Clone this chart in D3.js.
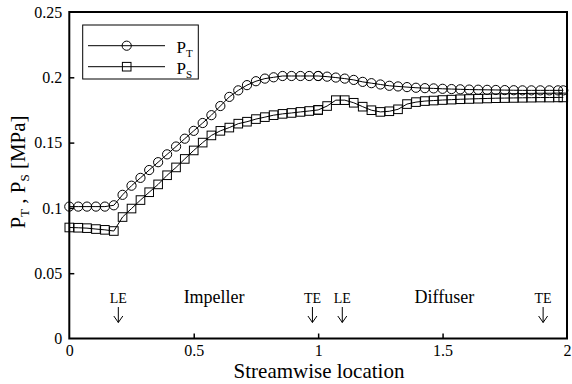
<!DOCTYPE html>
<html>
<head>
<meta charset="utf-8">
<script src="https://cdn.jsdelivr.net/npm/d3@7"></script>
<style>
  body { margin: 0; background: #fff; }
</style>
</head>
<body>
<div id="chart"></div>
<script>
// streamwise positions (impeller 0-1, diffuser 1-2)
const xs = [0, 0.036, 0.071, 0.107, 0.143, 0.179, 0.214, 0.25, 0.286, 0.321, 0.357, 0.393, 0.429, 0.464, 0.5,
    0.536, 0.571, 0.607, 0.643, 0.679, 0.714, 0.75, 0.786, 0.821, 0.857, 0.893, 0.929, 0.964, 1.0,
    1.0, 1.036, 1.071, 1.107, 1.143, 1.179, 1.214, 1.25, 1.286, 1.321, 1.357, 1.393, 1.429, 1.464, 1.5,
    1.536, 1.571, 1.607, 1.643, 1.679, 1.714, 1.75, 1.786, 1.821, 1.857, 1.893, 1.929, 1.964, 1.985]

const ptVals = [0.101, 0.101, 0.101, 0.101, 0.101, 0.102, 0.110, 0.117, 0.123, 0.129, 0.135, 0.141, 0.147, 0.153, 0.159,
    0.165, 0.171, 0.178, 0.185, 0.190, 0.194, 0.197, 0.199, 0.200, 0.201, 0.201, 0.201, 0.201, 0.201,
    0.201, 0.2005, 0.1998, 0.199, 0.198, 0.1965, 0.1955, 0.1945, 0.1935, 0.193, 0.1925, 0.192, 0.1917, 0.1915, 0.1912,
    0.191, 0.1908, 0.1906, 0.1905, 0.1904, 0.1903, 0.1902, 0.1901, 0.190, 0.190, 0.190, 0.190, 0.190, 0.190]

const psVals = [0.085, 0.0848, 0.0845, 0.0838, 0.0832, 0.0823, 0.093, 0.0995, 0.106, 0.112, 0.118, 0.125, 0.131, 0.1375, 0.144,
    0.150, 0.1555, 0.159, 0.1615, 0.1645, 0.166, 0.168, 0.1695, 0.171, 0.172, 0.1727, 0.1735, 0.1742, 0.175,
    0.175, 0.178, 0.1825, 0.1825, 0.1805, 0.1775, 0.1748, 0.1735, 0.174, 0.1755, 0.1795, 0.181, 0.1818, 0.1822, 0.1826,
    0.1829, 0.1832, 0.1834, 0.1836, 0.1838, 0.184, 0.1841, 0.1842, 0.1843, 0.1844, 0.1845, 0.1845, 0.1846, 0.1846]

const xTicks = [0, 0.5, 1, 1.5, 2]
const yTicks = [0, 0.05, 0.1, 0.15, 0.2, 0.25]

// blade edge markers and region names
const edgeNames = ["LE", "TE", "LE", "TE"]
const edgeXs = [0.197, 0.977, 1.097, 1.904]
const regionNames = ["Impeller", "Diffuser"]
const regionXs = [0.582, 1.507]

const width = 572,
    height = 384;

const svg = d3.select("#chart")
    .append("svg")
    .attr("width", width)
    .attr("height", height)

const x = d3.scaleLinear().domain([0, 2]).range([69.3, 567])
const y = d3.scaleLinear().domain([0, 0.25]).range([338.5, 12])

const fmt = d => d === 0 ? "0" : String(d)

// axes with inward ticks
const xAxis = svg.append("g")
    .attr("transform", `translate(0, ${y(0)})`)
    .call(d3.axisBottom(x).tickValues(xTicks).tickFormat(fmt).tickSizeInner(-5).tickSizeOuter(0).tickPadding(6))
xAxis.select(".domain").remove()
xAxis.selectAll("line").attr("stroke", "#000").attr("stroke-width", 1.5)
xAxis.selectAll("text").attr("font-size", 16).attr("fill", "#000")
xAxis.selectAll(".tick").filter(d => d === 2 || d === 0).select("line").remove()

const yAxis = svg.append("g")
    .attr("transform", `translate(${x(0)}, 0)`)
    .call(d3.axisLeft(y).tickValues(yTicks).tickFormat(fmt).tickSizeInner(-5).tickSizeOuter(0).tickPadding(7))
yAxis.select(".domain").remove()
yAxis.selectAll("line").attr("stroke", "#000").attr("stroke-width", 1.5)
yAxis.selectAll("text").attr("font-size", 16).attr("fill", "#000")
yAxis.selectAll(".tick").filter(d => d === 0 || d === 0.25).select("line").remove()

// frame
svg.append("rect")
    .attr("x", x(0))
    .attr("y", y(0.25))
    .attr("width", x(2) - x(0))
    .attr("height", y(0) - y(0.25))
    .attr("fill", "none")
    .attr("stroke", "#000")
    .attr("stroke-width", 2)

const lineGen = d3.line()
    .x(function (d) { return x(d[0]) })
    .y(function (d) { return y(d[1]) })

const ptData = xs.map((v, i) => [v, ptVals[i]])
const psData = xs.map((v, i) => [v, psVals[i]])

svg.append("path")
    .datum(ptData)
    .attr("d", lineGen)
    .attr("fill", "none")
    .attr("stroke", "#000")
    .attr("stroke-width", 1)

svg.append("path")
    .datum(psData)
    .attr("d", lineGen)
    .attr("fill", "none")
    .attr("stroke", "#000")
    .attr("stroke-width", 1)

svg.selectAll(".ptMark")
    .data(ptData)
    .join("circle")
    .attr("class", "ptMark")
    .attr("cx", d => x(d[0]))
    .attr("cy", d => y(d[1]))
    .attr("r", 4.6)
    .attr("fill", "none")
    .attr("stroke", "#000")
    .attr("stroke-width", 1)

svg.selectAll(".psMark")
    .data(psData)
    .join("rect")
    .attr("class", "psMark")
    .attr("x", d => x(d[0]) - 4.3)
    .attr("y", d => y(d[1]) - 4.3)
    .attr("width", 8.6)
    .attr("height", 8.6)
    .attr("fill", "none")
    .attr("stroke", "#000")
    .attr("stroke-width", 1)

// LE / TE labels with arrows
const edges = svg.selectAll(".edge")
    .data(edgeNames.map((n, i) => [n, edgeXs[i]]))
    .join("g")
    .attr("class", "edge")
    .attr("transform", d => `translate(${x(d[1])}, 0)`)

edges.append("text")
    .text(d => d[0])
    .attr("y", 303)
    .attr("text-anchor", "middle")
    .attr("font-size", 14)

edges.append("path")
    .attr("d", "M0,307 L0,322.5 M-4.5,316 L0,322.5 L4.5,316")
    .attr("fill", "none")
    .attr("stroke", "#000")
    .attr("stroke-width", 1)

svg.selectAll(".region")
    .data(regionNames.map((n, i) => [n, regionXs[i]]))
    .join("text")
    .attr("class", "region")
    .text(d => d[0])
    .attr("x", d => x(d[1]))
    .attr("y", 303)
    .attr("text-anchor", "middle")
    .attr("font-size", 18)

// axis titles
svg.append("text")
    .attr("x", 319)
    .attr("y", 378)
    .attr("text-anchor", "middle")
    .attr("font-size", 21)
    .text("Streamwise location")

const yTitle = svg.append("text")
    .attr("transform", "translate(25, 172) rotate(-90)")
    .attr("text-anchor", "middle")
    .attr("font-size", 21)
yTitle.append("tspan").text("P")
yTitle.append("tspan").attr("dy", 4).attr("font-size", 13).text("T")
yTitle.append("tspan").attr("dy", -4).text(" ,  P")
yTitle.append("tspan").attr("dy", 4).attr("font-size", 13).text("S")
yTitle.append("tspan").attr("dy", -4).text(" [MPa]")

// legend
const legend = svg.append("g")

legend.append("rect")
    .attr("x", 82.7)
    .attr("y", 25)
    .attr("width", 115.6)
    .attr("height", 54)
    .attr("fill", "#fff")
    .attr("stroke", "#000")
    .attr("stroke-width", 1)

const legendRows = [["T", 45.7, "circle"], ["S", 66.7, "square"]]

legendRows.forEach(function (row) {
    legend.append("line")
        .attr("x1", 88).attr("x2", 165)
        .attr("y1", row[1]).attr("y2", row[1])
        .attr("stroke", "#000")
    if (row[2] === "circle") {
        legend.append("circle")
            .attr("cx", 126.7).attr("cy", row[1]).attr("r", 4.6)
            .attr("fill", "none").attr("stroke", "#000")
    } else {
        legend.append("rect")
            .attr("x", 126.7 - 4.3).attr("y", row[1] - 4.3)
            .attr("width", 8.6).attr("height", 8.6)
            .attr("fill", "none").attr("stroke", "#000")
    }
    const t = legend.append("text")
        .attr("x", 176.5)
        .attr("y", row[1] + 7)
        .attr("font-size", 17)
    t.append("tspan").text("P")
    t.append("tspan").attr("dy", 4).attr("font-size", 11).text(row[0])
})

// serif face on every label
svg.selectAll("text").attr("font-family", "'Liberation Serif'").attr("fill", "#000")
svg.selectAll("g").attr("font-family", null)
</script>
</body>
</html>
